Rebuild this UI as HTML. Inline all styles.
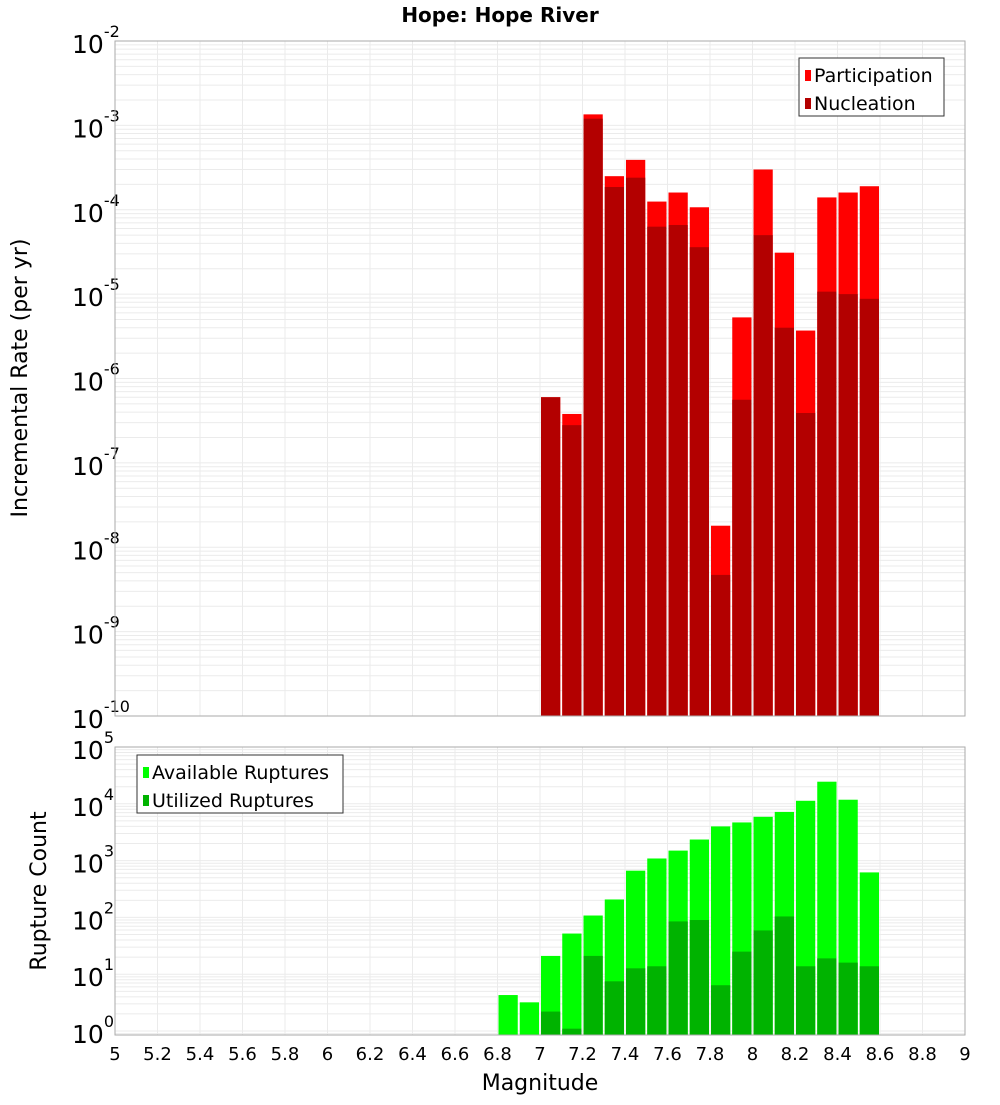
<!DOCTYPE html>
<html><head><meta charset="utf-8"><style>
body{margin:0;background:#fff;font-family:"Liberation Sans","DejaVu Sans",sans-serif}
svg text{font-family:"DejaVu Sans","Liberation Sans",sans-serif}
</style></head><body>
<svg id="c" width="1000" height="1100" xmlns="http://www.w3.org/2000/svg">
<text x="500" y="22" text-anchor="middle" font-size="20" font-weight="bold">Hope: Hope River</text>
<g id="topPanel"></g><g id="botPanel"></g>
<text transform="translate(27,378) rotate(-90)" text-anchor="middle" font-size="22">Incremental Rate (per yr)</text>
<text transform="translate(46,891) rotate(-90)" text-anchor="middle" font-size="22">Rupture Count</text>
<text x="540" y="1090" text-anchor="middle" font-size="22">Magnitude</text>
</svg>
<script>
const topBins=[7.0,7.1,7.2,7.3,7.4,7.5,7.6,7.7,7.8,7.9,8.0,8.1,8.2,8.3,8.4,8.5];
const participation=[6e-7,3.8e-7,1.35e-3,2.5e-4,3.9e-4,1.25e-4,1.6e-4,1.07e-4,1.8e-8,5.3e-6,3.0e-4,3.1e-5,3.7e-6,1.4e-4,1.6e-4,1.9e-4];
const nucleation=[6e-7,2.8e-7,1.2e-3,1.86e-4,2.4e-4,6.3e-5,6.6e-5,3.6e-5,4.7e-9,5.6e-7,5e-5,4e-6,3.9e-7,1.07e-5,1e-5,8.8e-6];
const botBins=[6.8,6.9,7.0,7.1,7.2,7.3,7.4,7.5,7.6,7.7,7.8,7.9,8.0,8.1,8.2,8.3,8.4,8.5];
const available=[4.3,3.2,21,52,108,207,665,1090,1500,2350,4000,4700,5900,7200,11300,24500,11800,620];
const utilized=[0,0,2.2,1.1,21,7.5,12.7,13.8,85,90,6.4,25,59,104,13.8,19,16,13.8];
const xTicks=[5,5.2,5.4,5.6,5.8,6,6.2,6.4,6.6,6.8,7,7.2,7.4,7.6,7.8,8,8.2,8.4,8.6,8.8,9];
const topExps=[-10,-9,-8,-7,-6,-5,-4,-3,-2];
const botExps=[0,1,2,3,4,5];

const NS="http://www.w3.org/2000/svg";
const X0=115,X1=965;
const xs=m=>X0+(m-5)/4*(X1-X0);
function mk(p,tag,a){const e=document.createElementNS(NS,tag);for(const k in a)e.setAttribute(k,a[k]);p.appendChild(e);return e;}
function panel(g,yTop,yBot,lmin,lmax,exps,name){
  const ys=v=>yBot-(Math.log10(v)-lmin)/(lmax-lmin)*(yBot-yTop);
  const bg=mk(g,'rect',{x:X0,y:yTop,width:X1-X0,height:yBot-yTop,fill:'#fff'});
  
  
  for(let e=Math.floor(lmin);e<lmax;e++)for(let k=1;k<10;k++){const v=k*Math.pow(10,e);const l=Math.log10(v);if(l<lmin||l>lmax)continue;
    const y=ys(v);const ln=mk(g,'line',{x1:X0,x2:X1,y1:y,y2:y,stroke:'#ebebeb','stroke-width':1});
    
    }
  xTicks.forEach(t=>{const ln=mk(g,'line',{x1:xs(t),x2:xs(t),y1:yTop,y2:yBot,stroke:'#ebebeb','stroke-width':1});
    
    });
  exps.forEach(e=>{const y=ys(Math.pow(10,e));const t=mk(g,'text',{x:72,y:y+12,'font-size':25});
    
    
    t.textContent='10';const s=mk(t,'tspan',{dy:-16,'font-size':16});s.textContent=String(e);});
  return ys;
}
const topG=document.getElementById('topPanel'),botG=document.getElementById('botPanel');
const ysT=panel(topG,41,716,-10,-2,topExps,'rate');
const ysB=panel(botG,747,1035,-0.07,5,botExps,'count');
const bw=xs(0.1)-xs(0);
function bar(g,m,v,yb,ys,color,name){if(!(v>0))return;const y=Math.max(ys(v),0);
  const r=mk(g,'rect',{x:xs(m)+1,y:y,width:bw-2,height:yb-y,fill:color});
  
  }
topBins.forEach((m,i)=>{bar(topG,m,participation[i],716,ysT,'#ff0000','participation-bar');bar(topG,m,nucleation[i],716,ysT,'#b30000','nucleation-bar');});
botBins.forEach((m,i)=>{bar(botG,m,available[i],1035,ysB,'#00ff00','available-bar');bar(botG,m,utilized[i],1035,ysB,'#00b300','utilized-bar');});
[[41,716],[747,1035]].forEach(([a,b])=>{const f=mk(document.getElementById('c'),'rect',{x:X0,y:a,width:X1-X0,height:b-a,fill:'none',stroke:'#aaa','stroke-width':1});
  
  });
xTicks.forEach(t=>{const tx=mk(botG,'text',{x:xs(t),y:1060,'text-anchor':'middle','font-size':18});
  
  
  tx.textContent=String(t);});
function legend(x,y,w,items,name){const g=mk(document.getElementById('c'),'g',{});
  
  
  mk(g,'rect',{x:x,y:y,width:w,height:58,fill:'#fff',stroke:'#333','stroke-width':1});
  items.forEach(([lab,col],i)=>{mk(g,'rect',{x:x+6,y:y+12+i*28,width:6,height:11,fill:col});
    const t=mk(g,'text',{x:x+15,y:y+24+i*28,'font-size':19});t.textContent=lab;});}
legend(799,58,145,[['Participation','#ff0000'],['Nucleation','#b30000']],'rate-legend');
legend(137,755,206,[['Available Ruptures','#00ff00'],['Utilized Ruptures','#00b300']],'count-legend');
</script>
</body></html>
